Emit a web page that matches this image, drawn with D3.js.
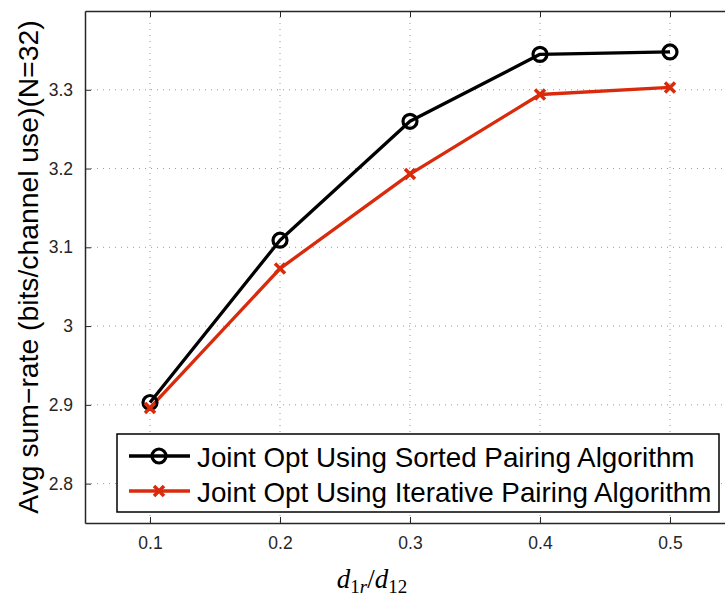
<!DOCTYPE html>
<html><head><meta charset="utf-8">
<script src="https://cdn.jsdelivr.net/npm/d3@7"></script>
<style>body{margin:0;background:#fff}svg{display:block}</style>
</head><body><svg id="c" width="725" height="597"></svg>
<script>
const xVals = [0.1, 0.2, 0.3, 0.4, 0.5];
const sorted = [2.903, 3.109, 3.260, 3.345, 3.348];
const iterative = [2.896, 3.073, 3.193, 3.294, 3.303];
const xTicks = [0.1, 0.2, 0.3, 0.4, 0.5];
const yTicks = [2.8, 2.9, 3.0, 3.1, 3.2, 3.3];
const seriesNames = ["Joint Opt Using Sorted Pairing Algorithm", "Joint Opt Using Iterative Pairing Algorithm"];
const colors = ["#000000", "#d92a0c"];

const svg = d3.select("#c");
const L = 85, R = 735, T = 11, B = 523;
const x = d3.scaleLinear().domain([0.05, 0.55]).range([L, R]);
const y = d3.scaleLinear().domain([2.75, 3.4]).range([B, T]);
const font = "'Liberation Sans', Arial, Helvetica, sans-serif";

// grid
const g = svg.append("g");
g.selectAll(".gx").data(xTicks).enter().append("line")
  .attr("x1", d => x(d)).attr("x2", d => x(d)).attr("y1", T).attr("y2", B)
  .attr("stroke", "#999").attr("stroke-width", 1).attr("stroke-dasharray", "1,5");
g.selectAll(".gy").data(yTicks).enter().append("line")
  .attr("x1", L).attr("x2", R).attr("y1", d => y(d)).attr("y2", d => y(d))
  .attr("stroke", "#999").attr("stroke-width", 1).attr("stroke-dasharray", "1,5");

// axes
const xAxis = d3.axisBottom(x).tickValues(xTicks).tickSizeInner(-6).tickSizeOuter(0).tickPadding(14).tickFormat(d3.format(".1f"));
const ax = svg.append("g").attr("transform", `translate(0,${B})`).call(xAxis);
const xAxisTop = d3.axisTop(x).tickValues(xTicks).tickSizeInner(-6).tickSizeOuter(0).tickFormat("");
const axt = svg.append("g").attr("transform", `translate(0,${T})`).call(xAxisTop);
const yAxis = d3.axisLeft(y).tickValues(yTicks).tickSizeInner(-6).tickSizeOuter(0).tickPadding(12).tickFormat(d => d === 3 ? "3" : d3.format(".1f")(d));
const ay = svg.append("g").attr("transform", `translate(${L},0)`).call(yAxis);
[ax, axt, ay].forEach(a => {
  a.select(".domain").attr("stroke", "#262626").attr("stroke-width", 1.5);
  a.selectAll(".tick line").attr("stroke", "#262626").attr("stroke-width", 1);
  a.selectAll(".tick text").attr("font-family", font).attr("font-size", 17.5).attr("fill", "#262626");
});

// lines
const series = [sorted, iterative];
const line = d3.line().x((d, i) => x(xVals[i])).y(d => y(d));
series.forEach((s, k) => {
  svg.append("path").datum(s).attr("d", line).attr("fill", "none")
    .attr("stroke", colors[k]).attr("stroke-width", 3.3).attr("stroke-linejoin", "round");
});
function circleMarker(sel, cx, cy, col) {
  sel.append("circle").attr("cx", cx).attr("cy", cy).attr("r", 7)
    .attr("fill", "none").attr("stroke", col).attr("stroke-width", 3.2);
}
function xMarker(sel, cx, cy, col) {
  const s = 5;
  sel.append("path").attr("d", `M${cx - s},${cy - s}L${cx + s},${cy + s}M${cx - s},${cy + s}L${cx + s},${cy - s}`)
    .attr("stroke", col).attr("stroke-width", 3.5).attr("fill", "none");
}
sorted.forEach((v, i) => circleMarker(svg, x(xVals[i]), y(v), colors[0]));
iterative.forEach((v, i) => xMarker(svg, x(xVals[i]), y(v), colors[1]));

// legend
const lg = svg.append("g");
lg.append("rect").attr("x", 117).attr("y", 434).attr("width", 602).attr("height", 78)
  .attr("fill", "#fff").attr("stroke", "#000").attr("stroke-width", 1.5);
seriesNames.forEach((n, k) => {
  const ly = 456 + k * 35;
  lg.append("line").attr("x1", 129).attr("x2", 190).attr("y1", ly).attr("y2", ly)
    .attr("stroke", colors[k]).attr("stroke-width", 3.3);
  if (k === 0) circleMarker(lg, 159, ly, colors[0]); else xMarker(lg, 159, ly, colors[1]);
  lg.append("text").attr("x", 197).attr("y", ly + 11).attr("font-family", font).attr("font-size", 27.8)
    .attr("fill", "#000").text(n);
});

// y label
svg.append("text").attr("transform", "translate(38,267) rotate(-90)").attr("text-anchor", "middle")
  .attr("font-family", font).attr("font-size", 28.3).attr("fill", "#000")
  .text("Avg sum\u2212rate (bits/channel use)(N=32)");

// x label
const xl = svg.append("text").attr("x", 372).attr("y", 588).attr("text-anchor", "middle")
  .attr("font-family", "'Liberation Serif', 'DejaVu Serif', serif").attr("font-size", 27).attr("fill", "#000");
xl.append("tspan").attr("font-style", "italic").text("d");
xl.append("tspan").attr("font-size", 19).attr("dy", 5).text("1");
xl.append("tspan").attr("font-size", 19).attr("font-style", "italic").text("r");
xl.append("tspan").attr("dy", -5).text("/");
xl.append("tspan").attr("font-style", "italic").text("d");
xl.append("tspan").attr("font-size", 19).attr("dy", 5).text("12");
</script></body></html>
